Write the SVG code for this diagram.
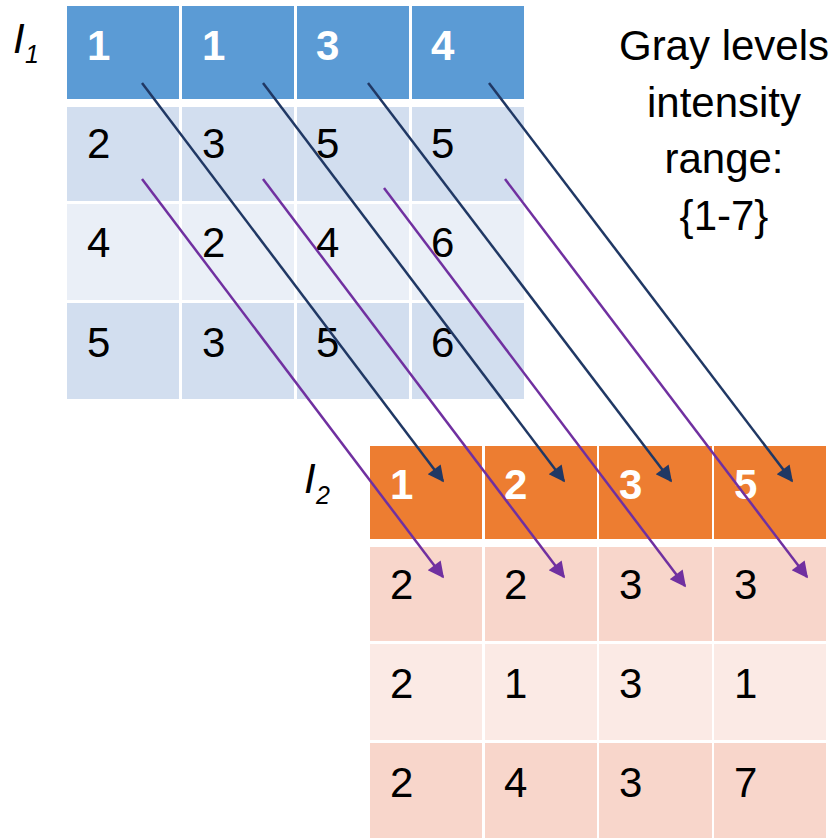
<svg xmlns="http://www.w3.org/2000/svg" width="835" height="838" viewBox="0 0 835 838">
<defs>
<style>
text{font-family:"Liberation Sans",Arial,sans-serif;font-size:42px}
.h{fill:#fff;font-weight:bold}
.b{fill:#000}
.bh{fill:#5B9BD5}
.b1{fill:#D2DEEF}
.b2{fill:#EAEFF7}
.oh{fill:#ED7D31}
.o1{fill:#F8D6CB}
.o2{fill:#FBEAE5}
.lbl{font-style:italic}
.note{text-anchor:middle}
.cb{stroke:#203864;stroke-width:2.5;fill:none;marker-end:url(#ab)}
.cp{stroke:#7030A0;stroke-width:2.5;fill:none;marker-end:url(#ap)}
</style>
<marker id="ab" viewBox="0 0 10 10" refX="9" refY="5" markerWidth="7.5" markerHeight="6.5" markerUnits="strokeWidth" orient="auto"><path d="M0,0 L10,5 L0,10 Z" fill="#203864"/></marker>
<marker id="ap" viewBox="0 0 10 10" refX="9" refY="5" markerWidth="7.5" markerHeight="6.5" markerUnits="strokeWidth" orient="auto"><path d="M0,0 L10,5 L0,10 Z" fill="#7030A0"/></marker>
</defs>
<rect width="835" height="838" fill="#fff"/>

<g id="table1">
<rect class="bh" x="67" y="6" width="112" height="93"/>
<rect class="bh" x="182" y="6" width="112" height="93"/>
<rect class="bh" x="297" y="6" width="112" height="93"/>
<rect class="bh" x="412" y="6" width="112" height="93"/>
<rect class="b1" x="67" y="107" width="112" height="94"/>
<rect class="b1" x="182" y="107" width="112" height="94"/>
<rect class="b1" x="297" y="107" width="112" height="94"/>
<rect class="b1" x="412" y="107" width="112" height="94"/>
<rect class="b2" x="67" y="204" width="112" height="96"/>
<rect class="b2" x="182" y="204" width="112" height="96"/>
<rect class="b2" x="297" y="204" width="112" height="96"/>
<rect class="b2" x="412" y="204" width="112" height="96"/>
<rect class="b1" x="67" y="303" width="112" height="96"/>
<rect class="b1" x="182" y="303" width="112" height="96"/>
<rect class="b1" x="297" y="303" width="112" height="96"/>
<rect class="b1" x="412" y="303" width="112" height="96"/>
<text class="h" x="87" y="60">1</text>
<text class="h" x="202" y="60">1</text>
<text class="h" x="316" y="60">3</text>
<text class="h" x="431" y="60">4</text>
<text class="b" x="87" y="158">2</text>
<text class="b" x="202" y="158">3</text>
<text class="b" x="316" y="158">5</text>
<text class="b" x="431" y="158">5</text>
<text class="b" x="87" y="257">4</text>
<text class="b" x="202" y="257">2</text>
<text class="b" x="316" y="257">4</text>
<text class="b" x="431" y="257">6</text>
<text class="b" x="87" y="357">5</text>
<text class="b" x="202" y="357">3</text>
<text class="b" x="316" y="357">5</text>
<text class="b" x="431" y="357">6</text>
</g>

<g id="label1">
<text class="lbl" x="13" y="53">I</text>
<text class="lbl" x="25" y="63" style="font-size:25px">1</text>
</g>

<g id="table2">
<rect class="oh" x="370" y="446" width="112" height="93"/>
<rect class="oh" x="485" y="446" width="112" height="93"/>
<rect class="oh" x="599" y="446" width="113" height="93"/>
<rect class="oh" x="714" y="446" width="112" height="93"/>
<rect class="o1" x="370" y="547" width="112" height="94"/>
<rect class="o1" x="485" y="547" width="112" height="94"/>
<rect class="o1" x="599" y="547" width="113" height="94"/>
<rect class="o1" x="714" y="547" width="112" height="94"/>
<rect class="o2" x="370" y="644" width="112" height="96"/>
<rect class="o2" x="485" y="644" width="112" height="96"/>
<rect class="o2" x="599" y="644" width="113" height="96"/>
<rect class="o2" x="714" y="644" width="112" height="96"/>
<rect class="o1" x="370" y="743" width="112" height="95"/>
<rect class="o1" x="485" y="743" width="112" height="95"/>
<rect class="o1" x="599" y="743" width="113" height="95"/>
<rect class="o1" x="714" y="743" width="112" height="95"/>
<text class="h" x="390" y="499">1</text>
<text class="h" x="504" y="499">2</text>
<text class="h" x="619" y="499">3</text>
<text class="h" x="734" y="499">5</text>
<text class="b" x="390" y="599">2</text>
<text class="b" x="504" y="599">2</text>
<text class="b" x="619" y="599">3</text>
<text class="b" x="734" y="599">3</text>
<text class="b" x="390" y="698">2</text>
<text class="b" x="504" y="698">1</text>
<text class="b" x="619" y="698">3</text>
<text class="b" x="734" y="698">1</text>
<text class="b" x="390" y="797">2</text>
<text class="b" x="504" y="797">4</text>
<text class="b" x="619" y="797">3</text>
<text class="b" x="734" y="797">7</text>
</g>

<g id="label2">
<text class="lbl" x="304" y="493">I</text>
<text class="lbl" x="316" y="504" style="font-size:25px">2</text>
</g>

<g id="note">
<text class="note" x="724" y="60">Gray levels</text>
<text class="note" x="724" y="117">intensity</text>
<text class="note" x="724" y="173">range:</text>
<text class="note" x="724" y="230">{1-7}</text>
</g>

<g id="connectors">
<line class="cb" x1="142" y1="83" x2="443" y2="481"/>
<line class="cb" x1="263" y1="83" x2="564" y2="481"/>
<line class="cb" x1="368" y1="83" x2="671" y2="481"/>
<line class="cb" x1="489" y1="83" x2="792" y2="481"/>
<line class="cp" x1="142" y1="179" x2="443" y2="577"/>
<line class="cp" x1="263" y1="179" x2="564" y2="577"/>
<line class="cp" x1="384" y1="188" x2="685" y2="586"/>
<line class="cp" x1="505" y1="179" x2="807" y2="577"/>
</g>
</svg>
